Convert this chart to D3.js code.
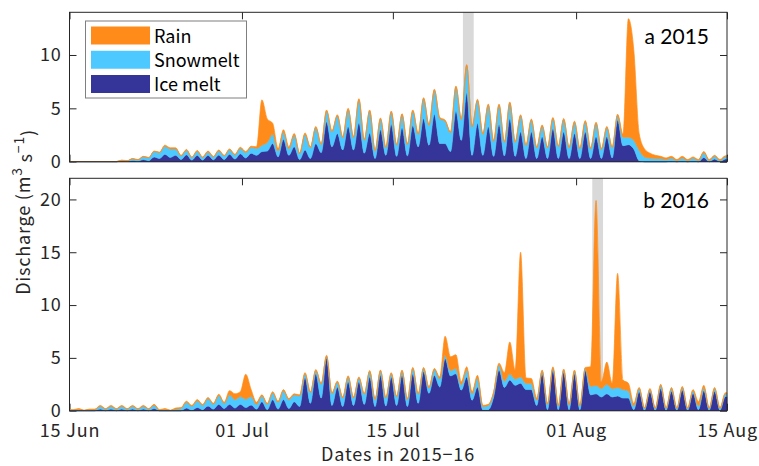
<!DOCTYPE html>
<html>
<head>
<meta charset="utf-8">
<script src="https://cdn.jsdelivr.net/npm/d3@7"></script>
<style>
  body { margin: 0; background: #fff; }
  svg { display: block; }
</style>
</head>
<body>
<svg id="chart" width="759" height="466"></svg>
<script>
// ---- data -------------------------------------------------------------
// Daily discharge components (m3 s-1), sampled at the morning low and the
// evening high of each day, 15 Jun (day 0) to 14 Aug (day 60).
const seriesKeys   = ["ice", "snow", "rain"];
const legendLabels = ["Rain", "Snowmelt", "Ice melt"];
const legendKeys   = ["rain", "snow", "ice"];
const xTickDates   = ["2015-06-15", "2015-07-01", "2015-07-15", "2015-08-01", "2015-08-15"];
const xTickLabels  = ["15 Jun", "01 Jul", "15 Jul", "01 Aug", "15 Aug"];
const yTicks2015   = [0, 5, 10];
const yTicks2016   = [0, 5, 10, 15, 20];
const highlight2015 = [36.5, 37.5];   // day range of grey band
const highlight2016 = [48.5, 49.5];

// 2015
const ice2015Low   = [0,0,0,0,0,.03,.05,.1,.3,.4,.2,.15,.15,.18,.2,.25,.35,.6,1.0,.45,.6,.2,.3,.85,1.4,1.1,1.1,.8,.3,.6,.5,.55,1.4,1.55,1.7,.95,2.0,.6,.6,.5,.55,.5,.3,.3,.3,.3,.3,.3,.3,.3,.35,1.5,1.2,0,0,0,0,0,0,0,0];
const snow2015Low  = [0,0,0,0,0,.05,.12,.27,.55,.8,.35,.25,.25,.27,.35,.38,.5,.65,.8,.55,.6,.55,1.0,.75,1.4,1.15,1.15,1.2,.7,.7,1.05,1.05,1.15,1.85,2.35,1.75,1.95,2.65,1.95,1.4,1.25,1.3,1.2,1.0,1.0,1.1,1.0,.9,.9,.85,.95,.8,.8,.45,.3,.2,.12,.12,.12,.12,.12];
const rain2015Low  = [.02,.02,.02,.02,.02,.02,.03,.03,.05,.1,.05,.05,.05,.05,.05,.07,.1,.15,2.2,.25,.2,.1,.1,.1,.1,.1,.1,.1,.1,.1,.1,.1,.1,.1,.1,.1,.1,.1,.1,.1,.1,.1,.1,.1,.1,.1,.1,.1,.1,.1,.1,.3,8.5,.75,.3,.15,.08,.08,.08,.08,.08];
const ice2015High  = [0,0,0,0,.05,.12,.2,.45,.7,.6,.65,.6,.6,.62,.7,.75,.8,.95,1.7,2.1,1.4,1.1,1.7,3.75,2.65,3.3,3.65,2.7,3.0,3.5,3.2,3.4,4.05,4.45,1.7,4.75,6.45,3.6,3.3,3.5,4.05,2.8,2.8,2.35,3.1,2.8,2.65,2.8,2.35,2.35,3.9,1.6,.1,0,0,.05,.05,.05,.4,.25,.25];
const snow2015High = [0,0,0,0,.07,.15,.27,.5,.75,.6,.42,.37,.32,.4,.42,.5,.55,.6,.9,.7,1.1,1.45,1.5,1.0,1.65,1.6,2.15,2.05,1.0,1.15,1.2,1.35,1.85,2.25,2.1,2.25,2.55,2.15,2.0,1.8,1.45,1.5,1.1,1.0,.95,1.15,1.05,.95,1.25,.85,.45,.7,1.0,.35,.3,.3,.3,.3,.45,.27,.22];
const rain2015High = [.02,.02,.02,.02,.03,.03,.03,.05,.1,.1,.08,.08,.08,.08,.08,.1,.1,4.25,1.0,.2,.15,.15,.1,.1,.1,.1,.1,.1,.1,.1,.1,.1,.1,.1,.1,.1,.1,.1,.1,.1,.1,.1,.1,.1,.1,.1,.1,.1,.1,.1,.1,11.1,1.55,.45,.2,.15,.15,.1,.1,.08,.08];

// 2016
const ice2016Low   = [0,0,0,0,0,0,0,0,0,0,0,.05,.1,.15,.2,.25,.3,.15,.1,.15,.2,.4,.7,1.2,.5,.4,.5,.6,.4,.45,.5,.4,.7,1.65,2.25,3.3,1.95,1.0,.1,1.3,2.2,2.4,2.0,.5,.1,.1,.1,.1,1.5,1.3,1.3,1.2,.1,.05,.05,.05,.05,.05,.1,.05,.05];
const snow2016Low  = [.05,.02,.1,.15,.15,.15,.15,.15,.05,.02,.22,.37,.42,.47,.5,.8,.8,.45,.5,.65,.85,1.0,1.0,1.3,1.1,.8,.7,.95,.65,.75,.8,.65,.85,.5,.75,.5,.5,.6,.3,.4,.6,.6,.6,.5,.5,.35,.45,.35,.8,.8,.8,.8,.35,.15,.15,.15,.15,.15,.35,.15,.15];
const rain2016Low  = [.05,.03,.05,.05,.05,.05,.05,.05,.05,.03,.08,.08,.08,.08,.1,.55,2.35,.2,.1,.1,.1,.1,.1,.1,.1,.1,.1,.1,.1,.1,.1,.1,.1,.1,.2,1.3,.3,.2,.1,.1,.8,.85,.5,.2,.1,.1,.1,.1,1.85,.65,.5,.9,.25,.1,.1,.1,.1,.1,.4,.1,.1];
const ice2016High  = [0,0,.15,.15,.15,.15,.15,.2,0,0,.25,.3,.45,.6,.6,.6,.55,.85,1.05,1.05,.85,3.15,3.5,5.0,2.25,2.75,2.75,3.2,3.35,3.2,3.35,3.5,3.7,3.35,4.95,3.5,3.2,2.25,.1,3.85,2.9,2.6,2.0,3.5,3.9,3.65,3.5,3.8,1.6,1.6,1.4,1.2,1.8,1.8,2.1,1.85,1.95,1.65,1.9,1.85,1.35];
const snow2016High = [.12,.1,.27,.27,.27,.27,.27,.32,.12,.15,.55,.65,.7,.85,.9,.75,.8,.55,.65,.85,.65,.35,.3,.15,.45,.45,.35,.5,.4,.3,.4,.5,.3,.55,.3,.5,.7,.85,.4,.5,.6,.6,.6,.25,.15,.2,.25,.2,.8,.9,.8,.7,.3,.2,.3,.25,.25,.25,.3,.25,.25];
const rain2016High = [.08,.05,.08,.08,.08,.08,.08,.08,.08,.1,.1,.1,.1,.1,.4,.45,.65,.1,.1,.1,.1,.1,.1,.1,.1,.1,.1,.1,.1,.1,.1,.1,.1,.1,1.8,1.3,.25,.25,.1,.15,3.0,11.8,.45,.1,.1,.1,.1,.1,17.5,2.1,10.8,.7,.1,.1,.1,.1,.1,.1,.2,.1,.1];

// ---- setup ------------------------------------------------------------
const colors = { rain: "#ff8c1a", snow: "#4dc9ff", ice: "#353498" };
const axisColor = "#262626";
const tickFont = "'Noto Sans CJK JP', 'Noto Sans', sans-serif";
const DAY = 864e5;
const lowPhase = 0.35, highPhase = 0.85;   // fraction of day for low / high samples
const start = new Date(Date.UTC(2015, 5, 15));
const nDays = 61;
const toDate = t => new Date(start.getTime() + t * DAY);

const svg = d3.select("#chart");
const x = d3.scaleUtc().domain([start, toDate(nDays)]).range([69.5, 727]);

function buildRows(low, high) {
  const rows = [];
  const pick = (src, d) => ({ ice: src.ice[d], snow: src.snow[d], rain: src.rain[d] });
  rows.push({ t: 0, ...pick(low, 0) });
  for (let d = 0; d < nDays; d++) {
    rows.push({ t: d + lowPhase, ...pick(low, d) });
    rows.push({ t: d + highPhase, ...pick(high, d) });
  }
  rows.push({ t: nDays, ...pick(high, nDays - 1) });
  return rows;
}

const panels = [
  {
    label: "a 2015", yMax: 14, yTicks: yTicks2015, top: 12.3, bottom: 161.7,
    band: highlight2015, showXLabels: false, labelY: 44,
    rows: buildRows(
      { ice: ice2015Low, snow: snow2015Low, rain: rain2015Low },
      { ice: ice2015High, snow: snow2015High, rain: rain2015High })
  },
  {
    label: "b 2016", yMax: 22, yTicks: yTicks2016, top: 178.3, bottom: 410.7,
    band: highlight2016, showXLabels: true, labelY: 208,
    rows: buildRows(
      { ice: ice2016Low, snow: snow2016Low, rain: rain2016Low },
      { ice: ice2016High, snow: snow2016High, rain: rain2016High })
  }
];

const stack = d3.stack().keys(seriesKeys);
const tickDates = xTickDates.map(s => new Date(s + "T00:00:00Z"));
const xLabelFor = d => xTickLabels[tickDates.findIndex(t => +t === +d)];

function styleAxis(g) {
  g.select(".domain").remove();
  g.selectAll(".tick line").attr("stroke", axisColor).attr("stroke-width", 1);
  g.selectAll(".tick text").attr("fill", axisColor)
    .style("font-family", tickFont).style("font-size", "18px")
    .style("letter-spacing", "0.8px");
}

panels.forEach(p => {
  const y = d3.scaleLinear().domain([0, p.yMax]).range([p.bottom, p.top]);
  const g = svg.append("g");

  // grey highlight band
  g.append("rect")
    .attr("x", x(toDate(p.band[0])))
    .attr("width", x(toDate(p.band[1])) - x(toDate(p.band[0])))
    .attr("y", p.top).attr("height", p.bottom - p.top)
    .attr("fill", "#d9d9d9");

  // tick marks (inward)
  g.append("g").attr("transform", `translate(0,${p.top})`)
    .call(d3.axisTop(x).tickValues(tickDates).tickSizeInner(-7).tickSizeOuter(0).tickFormat(""))
    .call(styleAxis);
  g.append("g").attr("transform", `translate(727,0)`)
    .call(d3.axisRight(y).tickValues(p.yTicks).tickSizeInner(-7).tickSizeOuter(0).tickFormat(""))
    .call(styleAxis);
  g.append("g").attr("transform", `translate(69.5,0)`)
    .call(d3.axisLeft(y).tickValues(p.yTicks).tickSizeInner(-7).tickSizeOuter(0).tickPadding(8))
    .call(styleAxis);
  g.append("g").attr("transform", `translate(0,${p.bottom})`)
    .call(d3.axisBottom(x).tickValues(tickDates).tickSizeInner(-7).tickSizeOuter(0).tickPadding(14)
      .tickFormat(p.showXLabels ? xLabelFor : ""))
    .call(styleAxis);

  // stacked areas
  const layers = stack(p.rows);
  const area = d3.area()
    .x(d => x(toDate(d.data.t)))
    .y0(d => y(d[0]))
    .y1(d => y(d[1]))
    .curve(d3.curveMonotoneX);
  g.append("g").selectAll("path").data(layers).join("path")
    .attr("d", area)
    .attr("fill", d => colors[d.key])
    .attr("stroke", d => colors[d.key])
    .attr("stroke-width", 0.7)
    .attr("stroke-linejoin", "round");

  // frame
  g.append("rect")
    .attr("x", 69.5).attr("y", p.top)
    .attr("width", 727 - 69.5).attr("height", p.bottom - p.top)
    .attr("fill", "none").attr("stroke", axisColor).attr("stroke-width", 1);

  // panel label
  g.append("text")
    .attr("x", 709).attr("y", p.labelY)
    .attr("text-anchor", "end")
    .style("font-family", "Lato, 'Open Sans', sans-serif")
    .style("font-size", "21px")
    .attr("fill", "#000")
    .text(p.label);
});

// axis titles
svg.append("text")
  .attr("x", 398).attr("y", 461)
  .attr("text-anchor", "middle")
  .style("font-family", tickFont).style("font-size", "18px")
  .style("letter-spacing", "0.8px")
  .attr("fill", axisColor)
  .text("Dates in 2015\u221216");

const yTitle = svg.append("text")
  .attr("transform", "translate(30,212) rotate(-90)")
  .attr("text-anchor", "middle")
  .style("font-family", tickFont).style("font-size", "18px")
  .style("letter-spacing", "0.8px")
  .attr("fill", axisColor);
yTitle.append("tspan").text("Discharge (m");
yTitle.append("tspan").attr("dy", "-0.6em").style("font-size", "14px").text("3");
yTitle.append("tspan").attr("dy", "0.6em").text(" s");
yTitle.append("tspan").attr("dy", "-0.6em").style("font-size", "14px").text("\u22121");
yTitle.append("tspan").attr("dy", "0.6em").text(")");

// legend
const legend = svg.append("g");
legend.append("rect")
  .attr("x", 85.5).attr("y", 21).attr("width", 161).attr("height", 77)
  .attr("fill", "#fff").attr("stroke", "#7f7f7f").attr("stroke-width", 1);
const rowY = d3.scalePoint().domain(legendKeys).range([35.5, 84]);
legendKeys.forEach((k, i) => {
  legend.append("rect")
    .attr("x", 91).attr("y", rowY(k) - 9).attr("width", 59).attr("height", 18)
    .attr("fill", colors[k]);
  legend.append("text")
    .attr("x", 154).attr("y", rowY(k) + 7)
    .style("font-family", tickFont).style("font-size", "18px")
    .attr("fill", "#000")
    .text(legendLabels[i]);
});
</script>
</body>
</html>
